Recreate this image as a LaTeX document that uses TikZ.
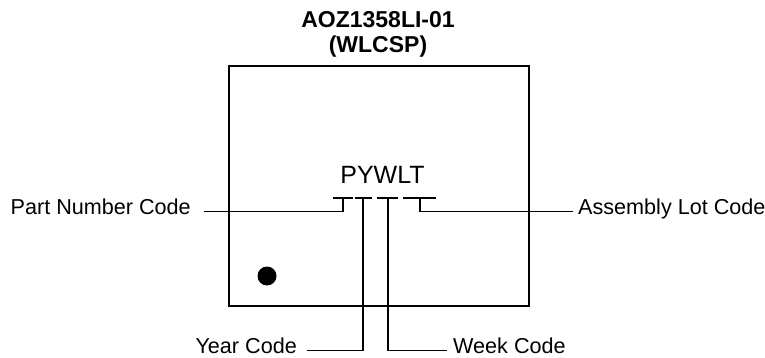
\documentclass[tikz,border=0pt]{standalone}
\usepackage{fontspec}
\setmainfont{Liberation Sans}
\usetikzlibrary{positioning}
\tikzset{> = latex,
	ttl/.style={font=\bfseries\fontsize{23}{24}\selectfont, inner sep=0pt, anchor=base},
	lbl/.style={font=\fontsize{21.6}{22}\selectfont, inner sep=0pt},
	lead/.style={line width=1.2pt},
	bar/.style={line width=1.2pt}}

\begin{document}
\begin{tikzpicture}[x=1pt,y=-1pt]
		\useasboundingbox (0,0) rectangle (765,358);
		% title
		\node[ttl] (title) at (378,28) {AOZ1358LI-01};
		\node[ttl] (pkg) at (378,53) {(WLCSP)};
		% package outline
		\node[draw, line width=2pt, minimum width=300pt, minimum height=240pt, inner sep=0pt] (chip) at (379,186) {};
		\fill (267,276) circle (9.5pt);
		% marking
		\node[font=\fontsize{25}{25}\selectfont, inner sep=0pt, anchor=base] (mark) at (382.5,183) {PYWLT};
		\coordinate (pt) at (343,198); \coordinate (yt) at (363,198);
		\coordinate (wt) at (388,198); \coordinate (lt) at (420,198);
		\draw[bar] (333,198)--(353,198) (355,198)--(372,198) (377,198)--(398,198) (403,198)--(436,198);
		% labels
		\node[lbl, anchor=base east] (pn) at (191,214) {Part Number Code};
		\node[lbl, anchor=base west] (alc) at (578,214) {Assembly Lot Code};
		\node[lbl, anchor=base east] (yc) at (297,353) {Year Code};
		\node[lbl, anchor=base west] (wc) at (453,353) {Week Code};
		\draw[lead] ([xshift=13pt]pn.mid east) -| (pt);
		\draw[lead] ([xshift=-5pt]alc.mid west) -| (lt);
		\draw[lead] ([xshift=10pt]yc.mid east) -| (yt);
		\draw[lead] ([xshift=-6pt]wc.mid west) -| (wt);
		\end{tikzpicture}
\end{document}
